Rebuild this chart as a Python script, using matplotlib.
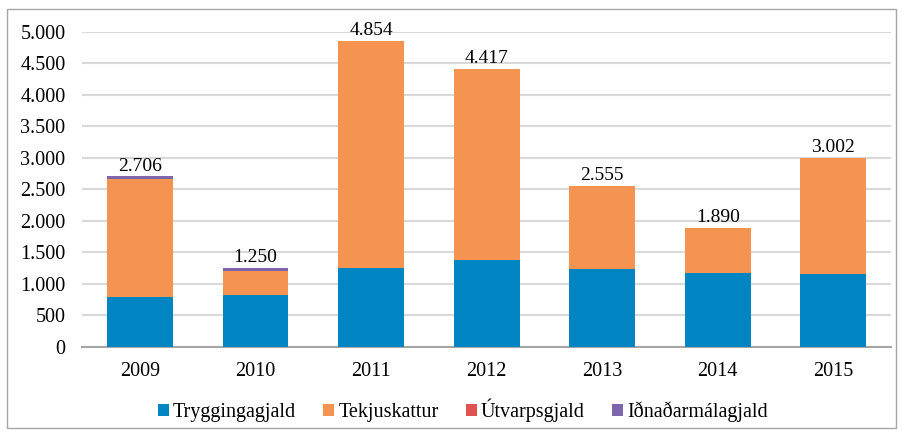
import matplotlib.pyplot as plt
from matplotlib.patches import Rectangle
import numpy as np

years = ['2009', '2010', '2011', '2012', '2013', '2014', '2015']
trygg = [795, 830, 1254, 1381, 1238, 1174, 1158]
tekju = [1871, 380, 3600, 3036, 1317, 716, 1844]
utvarp = [0, 0, 0, 0, 0, 0, 0]
idnadar = [40, 40, 0, 0, 0, 0, 0]
totals = [2706, 1250, 4854, 4417, 2555, 1890, 3002]

colors = ['#0085c3', '#f59350', '#e05252', '#7f66ac']
names = ['Tryggingagjald', 'Tekjuskattur', 'Útvarpsgjald', 'Iðnaðarmálagjald']

plt.rcParams['font.family'] = ['Liberation Serif', 'DejaVu Serif']

fig = plt.figure(figsize=(9.02, 4.32), dpi=100)
ax = fig.add_axes([0.091, 0.197, 0.897, 0.729])

x = np.arange(len(years))
bottom = np.zeros(len(years))
for vals, c, n in zip([trygg, tekju, utvarp, idnadar], colors, names):
    ax.bar(x, vals, 0.57, bottom=bottom, color=c, label=n, zorder=3)
    bottom += np.array(vals)

for xi, t in zip(x, totals):
    ax.text(xi, t + 30, f'{t:,}'.replace(',', '.'), ha='center', va='bottom', fontsize=14)

ax.set_xlim(-0.5, len(years) - 0.5)
ax.set_ylim(0, 5000)
ax.set_yticks(range(0, 5001, 500))
ax.set_yticklabels([f'{v:,}'.replace(',', '.') for v in range(0, 5001, 500)])
ax.set_xticks(x)
ax.set_xticklabels(years)
ax.tick_params(axis='both', labelsize=14.5, length=0)
ax.tick_params(axis='x', pad=11)
ax.tick_params(axis='y', pad=12)
ax.grid(axis='y', color='#d9d9d9', linewidth=1.5, zorder=0)
for s in ['top', 'right', 'left']:
    ax.spines[s].set_visible(False)
ax.spines['bottom'].set_color('#a6a6a6')
ax.spines['bottom'].set_linewidth(1.5)

fig.legend(loc='center', bbox_to_anchor=(0.513, 0.05), ncol=4, frameon=False,
           fontsize=14.5, handlelength=0.55, handleheight=0.55, handletextpad=0.2,
           columnspacing=1.35)

fig.patches.append(Rectangle((7 / 902, 4 / 432), 889 / 902, 419 / 432, transform=fig.transFigure,
                             fill=False, edgecolor='#a6a6a6', linewidth=1))

fig.savefig('out.png', dpi=100)
